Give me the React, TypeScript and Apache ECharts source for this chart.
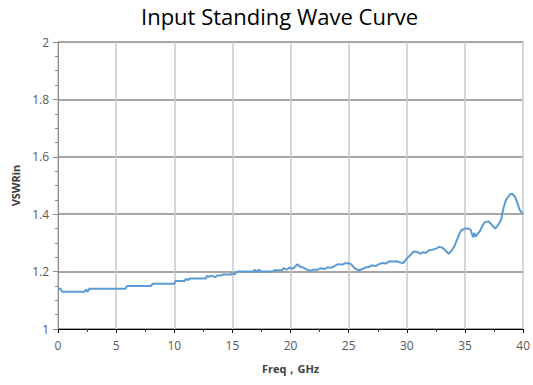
import React, { useEffect, useRef } from "react";
import * as echarts from "echarts";

const TITLE = "Input Standing Wave Curve";
const X_NAME = "Freq，GHz";
const Y_NAME = "VSWRin";

const freqGHz = [
  0, 0.2, 0.35, 2.3, 2.4, 2.55, 2.7, 5.8, 5.95, 8.0, 8.15, 10.0, 10.1, 10.9, 11.0, 11.2, 11.3,
  12.7, 12.8, 13.0, 13.2, 13.5, 13.7, 14.0, 14.2, 14.9, 15.0, 15.2, 15.3, 15.5, 16.8, 16.9,
  17.1, 17.3, 17.5, 18.5, 18.6, 19.3, 19.4, 19.7, 19.9, 20.2, 20.4, 20.6, 20.8, 21.1, 21.4,
  21.7, 22.0, 22.3, 22.6, 22.9, 23.2, 23.5, 23.8, 24.1, 24.4, 24.7, 25.0, 25.2, 25.5, 25.8,
  26.1, 26.4, 26.7, 27.0, 27.3, 27.6, 27.9, 28.2, 28.5, 28.8, 29.1, 29.4, 29.7, 30.0, 30.3,
  30.6, 30.9, 31.2, 31.4, 31.6, 31.9, 32.2, 32.5, 32.8, 33.1, 33.4, 33.6, 33.9, 34.1, 34.3,
  34.5, 34.7, 35.0, 35.3, 35.5, 35.6, 35.7, 35.8, 35.9, 36.1, 36.3, 36.5, 36.7, 37.0, 37.2,
  37.4, 37.6, 37.8, 38.1, 38.3, 38.5, 38.7, 38.9, 39.1, 39.3, 39.5, 39.7, 39.9, 40.0,
];

const vswr = [
  1.14, 1.14, 1.13, 1.13, 1.138, 1.13, 1.14, 1.14, 1.15, 1.15, 1.158, 1.158, 1.167, 1.167, 1.175, 1.17, 1.176,
  1.176, 1.185, 1.182, 1.186, 1.181, 1.186, 1.186, 1.19, 1.19, 1.195, 1.19, 1.197, 1.2, 1.2, 1.206,
  1.2, 1.206, 1.2, 1.2, 1.205, 1.206, 1.212, 1.207, 1.214, 1.21, 1.218, 1.226, 1.218, 1.214, 1.207,
  1.203, 1.207, 1.206, 1.212, 1.209, 1.215, 1.213, 1.22, 1.226, 1.224, 1.229, 1.229, 1.226, 1.212, 1.205,
  1.207, 1.214, 1.216, 1.222, 1.219, 1.226, 1.23, 1.228, 1.236, 1.235, 1.236, 1.232, 1.23, 1.245, 1.258,
  1.27, 1.268, 1.262, 1.268, 1.265, 1.274, 1.276, 1.28, 1.286, 1.282, 1.27, 1.262, 1.276, 1.29, 1.31,
  1.33, 1.345, 1.35, 1.35, 1.345, 1.33, 1.32, 1.335, 1.322, 1.332, 1.342, 1.36, 1.372, 1.375, 1.368,
  1.358, 1.35, 1.36, 1.38, 1.42, 1.448, 1.46, 1.47, 1.47, 1.46, 1.44, 1.415, 1.405, 1.4,
];

const X_MIN = 0, X_MAX = 40, X_STEP = 5;
const Y_MIN = 1, Y_MAX = 2, Y_STEP = 0.2;

const FONT = "'Open Sans', 'Noto Sans', sans-serif";

export default function App() {
  const ref = useRef<HTMLDivElement>(null);
  useEffect(() => {
    if (!ref.current) return;
    const chart = echarts.init(ref.current, null, { renderer: "svg" });
    chart.setOption({
      animation: false,
      backgroundColor: "#ffffff",
      title: {
        text: TITLE,
        left: 136,
        top: 0,
        textStyle: { fontFamily: FONT, fontSize: 22, fontWeight: "normal", color: "#000000" },
      },
      grid: { left: 58, right: 8, top: 42, bottom: 56, containLabel: false },
      xAxis: {
        type: "value",
        min: X_MIN,
        max: X_MAX,
        interval: X_STEP,
        name: X_NAME,
        nameLocation: "middle",
        nameGap: 34,
        nameTextStyle: { fontFamily: FONT, fontSize: 11, fontWeight: "bold", color: "#404040" },
        axisLine: { show: true, lineStyle: { color: "#000000", width: 1 } },
        axisTick: { show: true, length: 4, lineStyle: { color: "#000000" } },
        minorTick: { show: true, splitNumber: 2, length: 3, lineStyle: { color: "#404040" } },
        axisLabel: { fontFamily: FONT, fontSize: 12, color: "#595959", margin: 10 },
        splitLine: { show: true, lineStyle: { color: "#c8c8c8", width: 1.5 } },
      },
      yAxis: {
        type: "value",
        min: Y_MIN,
        max: Y_MAX,
        interval: Y_STEP,
        name: Y_NAME,
        nameLocation: "middle",
        nameGap: 33,
        nameRotate: 90,
        nameTextStyle: { fontFamily: FONT, fontSize: 11, fontWeight: "bold", color: "#404040" },
        axisLine: { show: true, lineStyle: { color: "#8c8c8c", width: 1 } },
        axisTick: { show: true, length: 5, lineStyle: { color: "#8c8c8c" } },
        minorTick: { show: true, splitNumber: 4, length: 3, lineStyle: { color: "#8c8c8c" } },
        axisLabel: {
          fontFamily: FONT,
          fontSize: 12,
          color: "#595959",
          margin: 9,
          formatter: (v: number) => String(Math.round(v * 10) / 10),
        },
        splitLine: { show: true, lineStyle: { color: "#a6a6a6", width: 2 } },
      },
      series: [
        {
          type: "line",
          data: freqGHz.map((f, i) => [f, vswr[i]]),
          showSymbol: false,
          symbol: "none",
          lineStyle: { color: "#5b9bd5", width: 2 },
          itemStyle: { color: "#5b9bd5" },
        },
      ],
    });
    return () => chart.dispose();
  }, []);
  return (
    <div
      ref={ref}
      style={{ position: "absolute", left: 0, top: 0, width: 533, height: 385 }}
    />
  );
}
